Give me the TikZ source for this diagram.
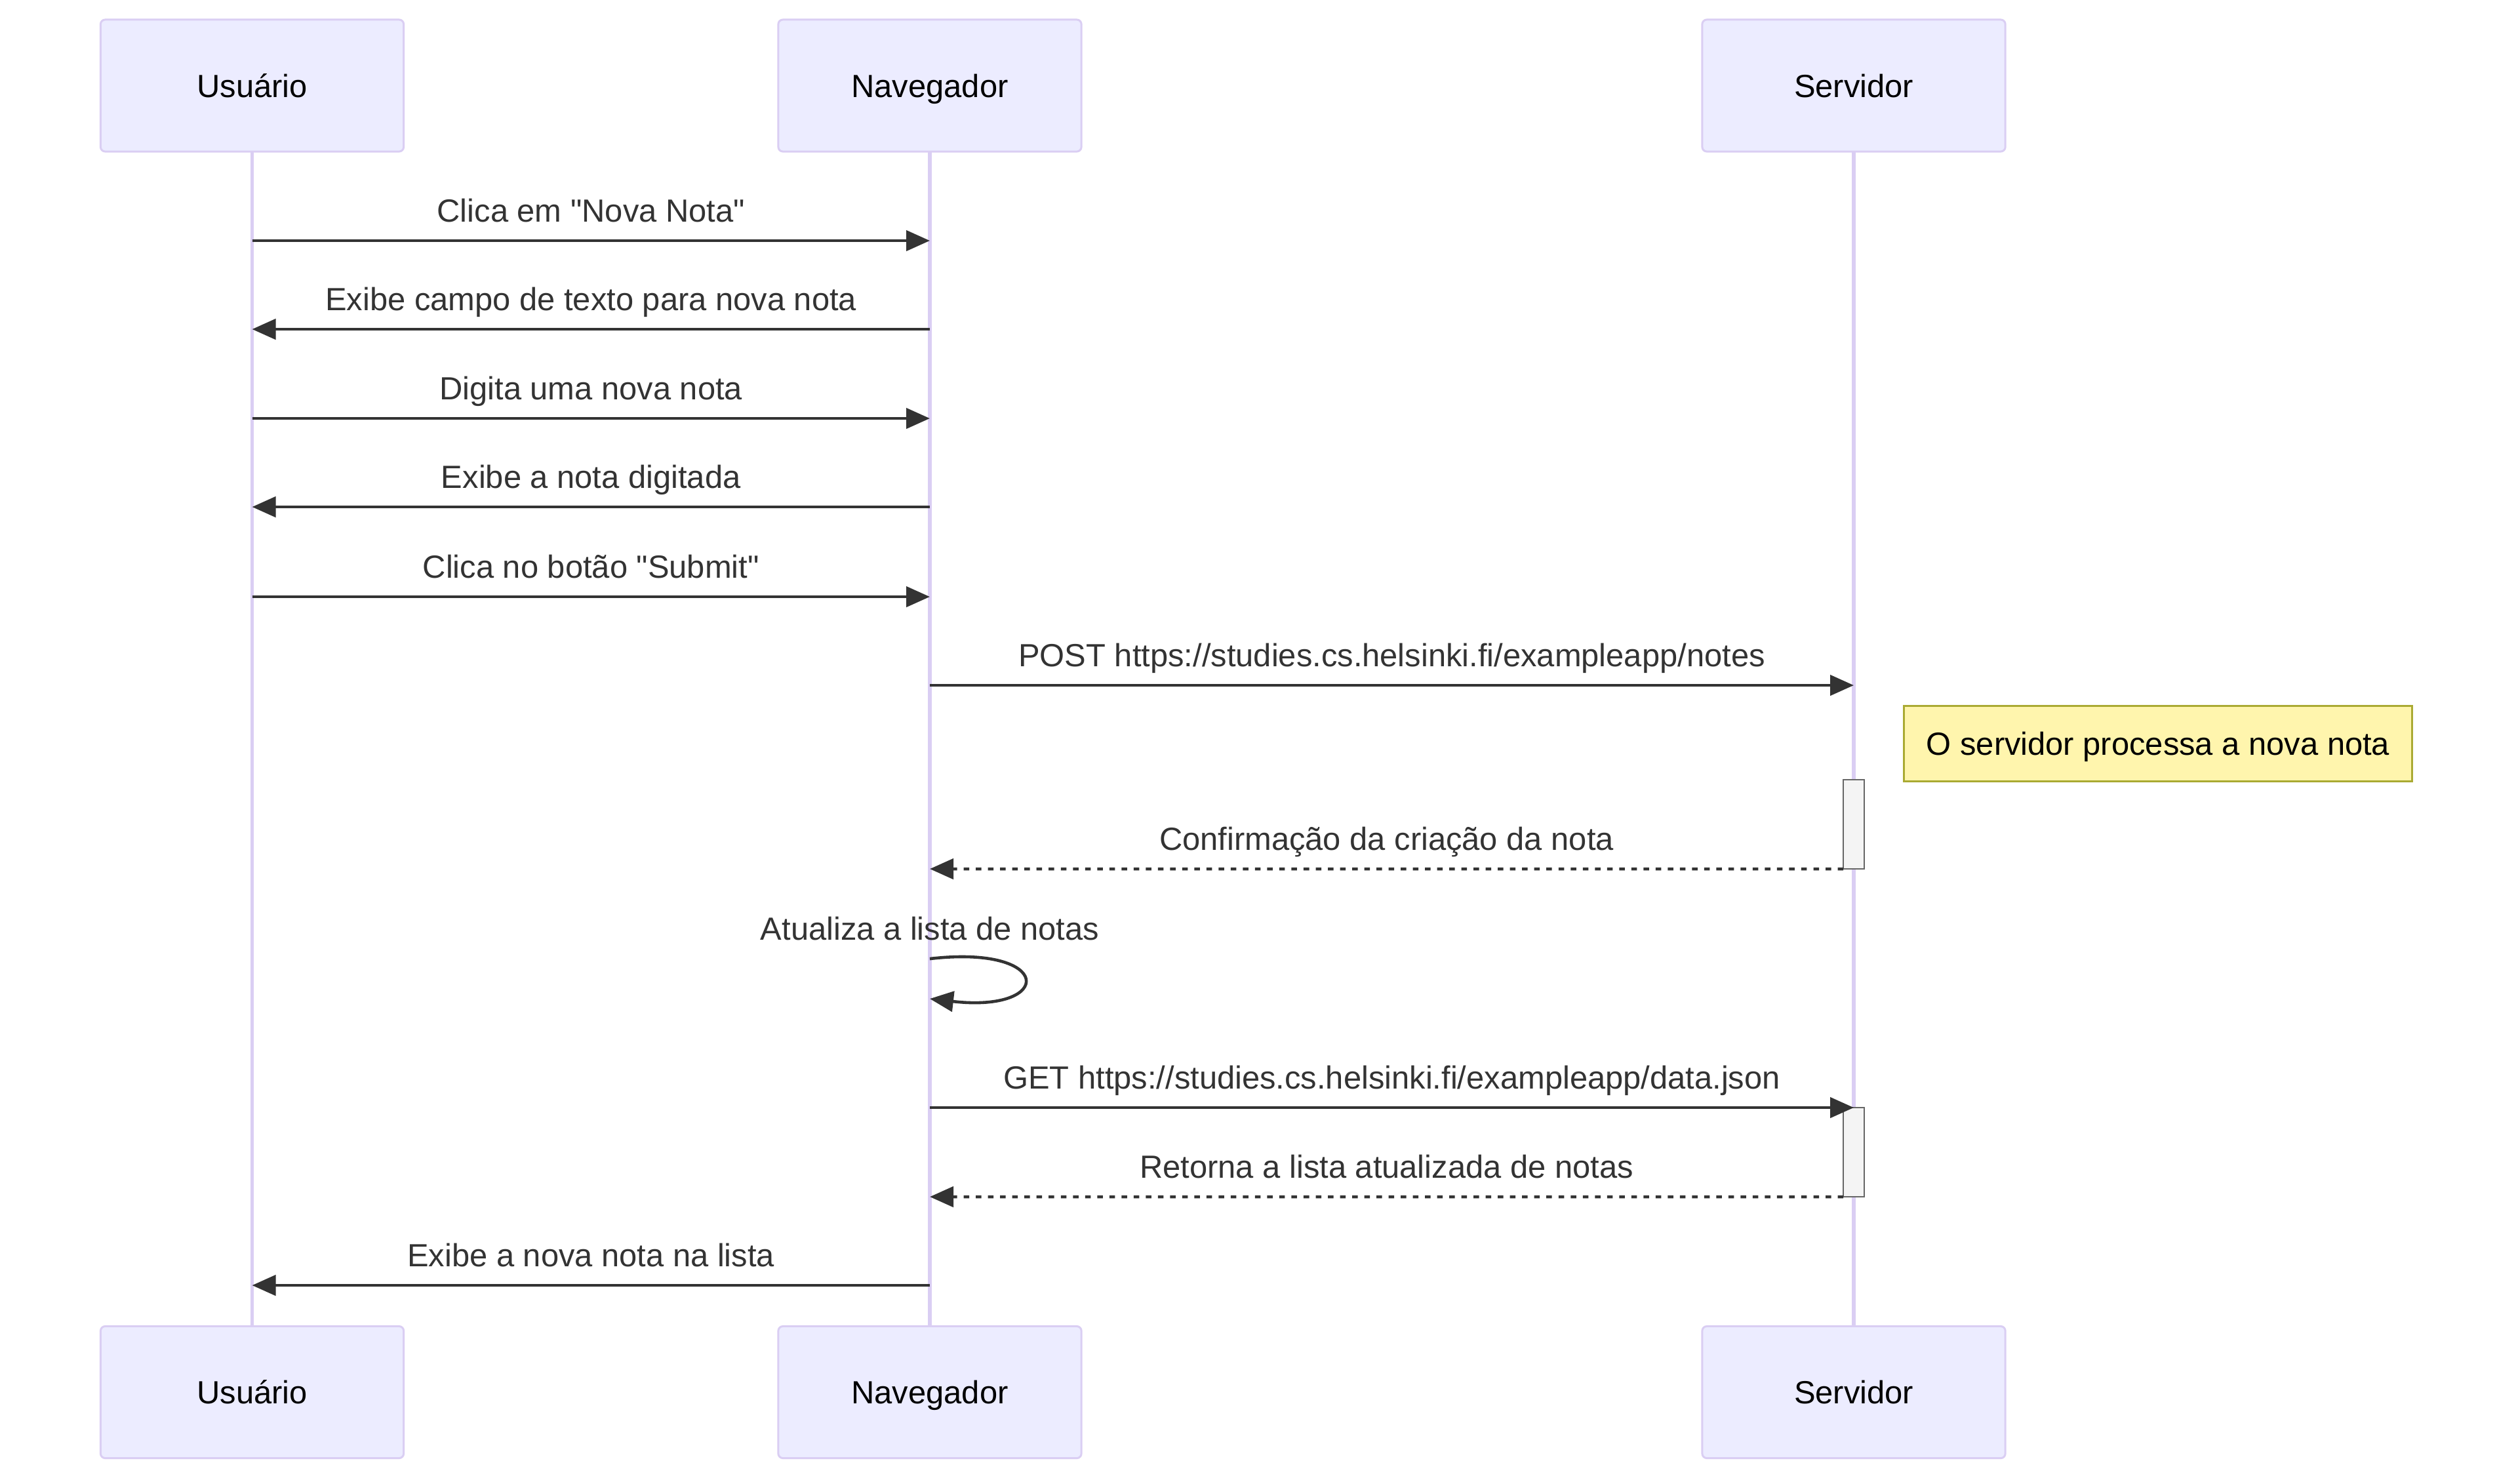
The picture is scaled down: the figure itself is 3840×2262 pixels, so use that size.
\documentclass[tikz,border=0pt]{standalone}
\usepackage{fontspec}
\setmainfont{Liberation Sans}
\usepackage{xcolor}
\usepackage{tikz}
\usetikzlibrary{arrows.meta,positioning,calc}
\definecolor{sqink}{HTML}{333333}
\definecolor{sqactor}{HTML}{ECECFF}
\definecolor{sqline}{HTML}{DACEF3}
\definecolor{sqnote}{HTML}{FFF5AD}
\definecolor{sqnoteb}{HTML}{AAAA33}
\definecolor{sqact}{HTML}{F4F4F4}
\definecolor{sqactb}{HTML}{666666}

\begin{document}
\begin{tikzpicture}[x=0.01cm,y=-0.01cm,
  every node/.style={font=\fontsize{13.9pt}{16pt}\selectfont},
  actor/.style={draw=sqline,fill=sqactor,line width=0.85pt,rounded corners=2pt,
    minimum width=4.62cm,minimum height=2.01cm,inner sep=0pt,outer sep=0pt,
    text height=9.95pt,text depth=0pt},
  life/.style={sqline,line width=1.6pt},
  msg/.style={sqink,line width=1.3pt,-{Triangle[length=3.6mm,width=3.1mm]}},
  reply/.style={msg,dash pattern=on 0.085cm off 0.1cm},
  lbl/.style={midway,anchor=base,yshift=0.29cm,text=sqink},
  actbar/.style={draw=sqactb,fill=sqact,line width=0.65pt,minimum width=0.32cm,
    inner sep=0pt,outer sep=0pt},
  notebox/.style={draw=sqnoteb,fill=sqnote,line width=0.8pt,minimum width=7.74cm,
    minimum height=1.15cm,inner sep=0pt,text height=9.95pt,text depth=0pt}]
  \useasboundingbox (0,0) rectangle (3840,2262);

  % actors
  \node[actor] (usr) at (384.5,130.5) {Usuário};
  \node[actor] (nav) at (1418,130.5) {Navegador};
  \node[actor] (srv) at (2827,130.5) {Servidor};
  \node[actor] (usrb) at (384.5,2123) {Usuário};
  \node[actor] (navb) at (1418,2123) {Navegador};
  \node[actor] (srvb) at (2827,2123) {Servidor};

  % lifelines
  \draw[life] (usr) -- (usrb);
  \draw[life] (nav) -- (navb);
  \draw[life] (srv) -- (srvb);

  % message rows
  \foreach \r/\y in {1/367,2/502,3/638,4/773,5/910,6/1045,7/1325,8/1462,
                     9/1523,10/1689,11/1825,12/1960}{
    \coordinate (u\r) at (usr |- 0,\y);
    \coordinate (n\r) at (nav |- 0,\y);
    \coordinate (s\r) at (srv |- 0,\y);
  }

  % activations
  \node[actbar,minimum height=1.36cm] (act1) at (2827,1257) {};
  \node[actbar,minimum height=1.36cm] (act2) at (2827,1757) {};

  % note
  \node[notebox] (proc) at (3291,1134) {O servidor processa a nova nota};

  % messages
  \draw[msg] (u1) -- (n1) node[lbl] {Clica em \textquotedbl Nova Nota\textquotedbl};
  \draw[msg] (n2) -- (u2) node[lbl] {Exibe campo de texto para nova nota};
  \draw[msg] (u3) -- (n3) node[lbl] {Digita uma nova nota};
  \draw[msg] (n4) -- (u4) node[lbl] {Exibe a nota digitada};
  \draw[msg] (u5) -- (n5) node[lbl] {Clica no botão \textquotedbl Submit\textquotedbl};
  \draw[msg] (n6) -- (s6) node[lbl] {POST https://studies.cs.helsinki.fi/exampleapp/notes};
  \draw[reply] (act1.south west) -- (n7) node[lbl] {Confirmação da criação da nota};

  % self call
  \node[anchor=base,text=sqink] (upd) at ([yshift=0.29cm]n8) {Atualiza a lista de notas};
  \draw[msg] (n8) .. controls +(190,-22) and +(190,22) .. (n9);

  \draw[msg] (n10) -- (s10) node[lbl] {GET https://studies.cs.helsinki.fi/exampleapp/data.json};
  \draw[reply] (act2.south west) -- (n11) node[lbl] {Retorna a lista atualizada de notas};
  \draw[msg] (n12) -- (u12) node[lbl] {Exibe a nova nota na lista};
\end{tikzpicture}
\end{document}
